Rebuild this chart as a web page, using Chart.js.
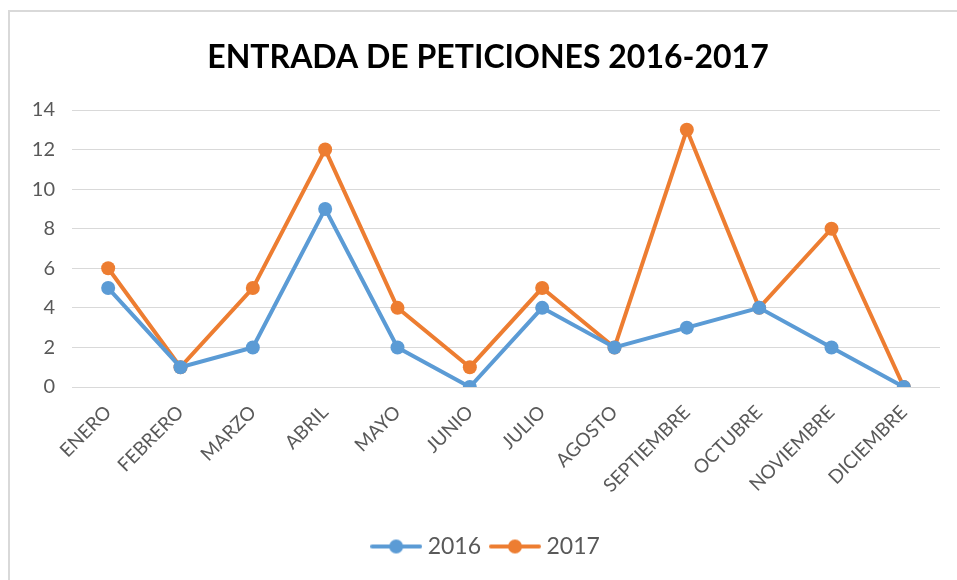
<!DOCTYPE html>
<html>
<head>
<meta charset="utf-8">
<script src="https://cdn.jsdelivr.net/npm/chart.js@4"></script>
<style>
  html, body { margin: 0; padding: 0; background: #fff; overflow: hidden; }
  #frame { position: absolute; left: 8px; top: 10px; width: 1000px; height: 600px;
           border-top: 2px solid #d9d9d9; border-left: 2px solid #d9d9d9; }
  #wrap { position: absolute; left: 8px; top: 0; width: 960px; height: 580px; }
</style>
</head>
<body>
<div id="frame"></div>
<div id="wrap"><canvas id="myChart" width="960" height="580"></canvas></div>
<script>
var meses = ['ENERO', 'FEBRERO', 'MARZO', 'ABRIL', 'MAYO', 'JUNIO', 'JULIO', 'AGOSTO',
             'SEPTIEMBRE', 'OCTUBRE', 'NOVIEMBRE', 'DICIEMBRE'];
var datos2016 = [5, 1, 2, 9, 2, 0, 4, 2, 3, 4, 2, 0];
var datos2017 = [6, 1, 5, 12, 4, 1, 5, 2, 13, 4, 8, 0];
var yTicks = [0, 2, 4, 6, 8, 10, 12, 14];

var azul = '#5B9BD5';
var naranja = '#ED7D31';
var fuente = 'Lato, "Open Sans", sans-serif';

// legend marker: line with a dot in the middle
function marker(color) {
    var c = document.createElement('canvas');
    c.width = 52; c.height = 16;
    var g = c.getContext('2d');
    g.strokeStyle = color;
    g.lineWidth = 4;
    g.lineCap = 'round';
    g.beginPath(); g.moveTo(2, 8); g.lineTo(50, 8); g.stroke();
    g.fillStyle = color;
    g.beginPath(); g.arc(26, 8, 7, 0, Math.PI * 2); g.fill();
    return c;
}

var ctx = document.getElementById('myChart').getContext('2d');
var chart = new Chart(ctx, {
    type: 'line',
    data: {
        labels: meses,
        datasets: [{
            label: '2016',
            data: datos2016,
            borderColor: azul,
            backgroundColor: azul,
            borderWidth: 4,
            pointRadius: 7,
            pointHoverRadius: 7,
            pointBorderWidth: 0,
            pointStyle: 'circle'
        }, {
            label: '2017',
            data: datos2017,
            borderColor: naranja,
            backgroundColor: naranja,
            borderWidth: 4,
            pointRadius: 7,
            pointHoverRadius: 7,
            pointBorderWidth: 0,
            pointStyle: 'circle'
        }]
    },
    options: {
        responsive: false,
        animation: false,
        layout: { padding: { left: 0, right: 0, top: 38, bottom: 12 } },
        plugins: {
            title: {
                display: true,
                text: 'ENTRADA DE PETICIONES 2016-2017',
                color: '#000',
                font: { family: fuente, size: 32, weight: 'bold' },
                padding: { top: 0, bottom: 33.6 }
            },
            legend: {
                position: 'bottom',
                labels: {
                    usePointStyle: true,
                    pointStyleWidth: 40,
                    color: '#595959',
                    font: { family: fuente, size: 23 },
                    padding: 14,
                    generateLabels: function (ch) {
                        return ch.data.datasets.map(function (ds, i) {
                            return {
                                text: ds.label,
                                pointStyle: marker(ds.borderColor),
                                fontColor: '#595959',
                                lineWidth: 0,
                                strokeStyle: 'transparent',
                                fillStyle: ds.borderColor,
                                datasetIndex: i
                            };
                        });
                    }
                }
            },
            tooltip: { enabled: false }
        },
        scales: {
            x: {
                offset: true,
                afterFit: function (s) { s.height = 134; },
                grid: { display: false },
                border: { display: false },
                ticks: {
                    color: '#595959',
                    font: { family: fuente, size: 19 },
                    maxRotation: 45,
                    minRotation: 45,
                    autoSkip: false,
                    padding: 6
                }
            },
            y: {
                min: 0,
                max: 14,
                afterFit: function (s) { s.width = 64; },
                afterBuildTicks: function (s) {
                    s.ticks = yTicks.map(function (v) { return { value: v }; });
                },
                grid: { color: '#d9d9d9', lineWidth: 1, drawTicks: false },
                border: { display: false },
                ticks: {
                    color: '#595959',
                    font: { family: fuente, size: 20 },
                    padding: 17
                }
            },
            // empty right-hand axis, only keeps space right of the plot
            derecha: {
                type: 'linear',
                position: 'right',
                afterFit: function (s) { s.width = 28; },
                grid: { display: false },
                border: { display: false },
                ticks: { display: false }
            }
        }
    }
});
</script>
</body>
</html>
